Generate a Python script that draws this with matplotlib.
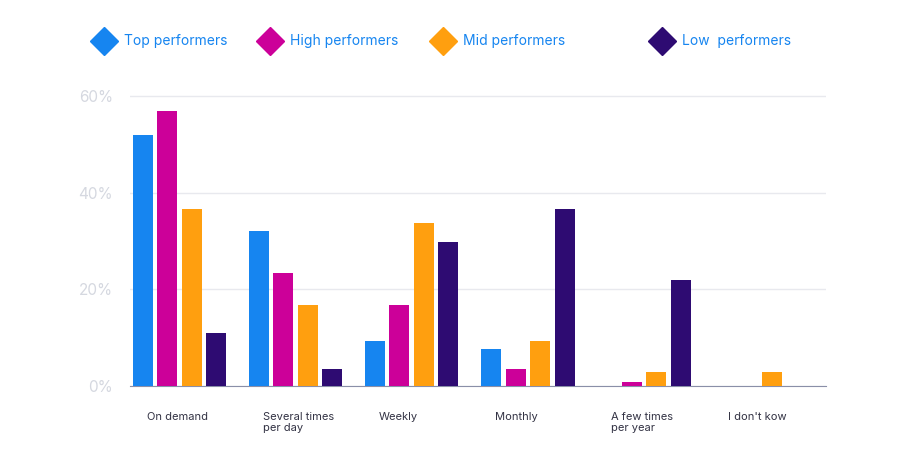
import matplotlib
matplotlib.use("Agg")
import matplotlib.pyplot as plt
from matplotlib.lines import Line2D
import numpy as np

plt.rcParams['font.family'] = ['Inter', 'DejaVu Sans']

categories = ["On demand", "Several times\nper day", "Weekly", "Monthly", "A few times\nper year", "I don't kow"]
series_names = ["Top performers", "High performers", "Mid performers", "Low  performers"]
top = [52, 32, 9.3, 7.7, 0, 0]
high = [57, 23.4, 16.8, 3.5, 0.8, 0]
mid = [36.7, 16.8, 33.7, 9.3, 2.9, 2.9]
low = [11, 3.5, 29.8, 36.7, 22, 0]
colors = ["#1685f0", "#cc0099", "#ff9f0f", "#2e0b72"]
yticks = [0, 20, 40, 60]

fig = plt.figure(figsize=(9, 4.54), dpi=100)
ax = fig.add_axes([0.144, 0.150, 0.774, 0.659])
x = np.arange(len(categories))
w, step = 0.172, 0.211
for i, (vals, c) in enumerate(zip([top, high, mid, low], colors)):
    ax.bar(x + (i - 1.5) * step, vals, width=w, color=c, zorder=3)

ax.set_xlim(-0.43, 5.57)
ax.set_ylim(0, 62)
ax.set_yticks(yticks)
ax.set_yticklabels([f"{v}%" for v in yticks], color="#d5d8e0", fontsize=11)
ax.tick_params(axis='y', length=0, pad=12)
ax.grid(axis='y', color="#e8e9ee", linewidth=1, zorder=0)
for s in ["top", "right", "left"]:
    ax.spines[s].set_visible(False)
ax.spines["bottom"].set_color("#8a8fa8")
ax.set_xticks(x)
ax.set_xticklabels([])
ax.tick_params(axis='x', length=0)
for xi, lab in zip(x, categories):
    ax.text(xi - 0.28, -5.5, lab, ha='left', va='top', fontsize=8, color="#333344",
            linespacing=1.1)

leg_x = [0.116, 0.300, 0.492, 0.736]
for lx, name, c in zip(leg_x, series_names, colors):
    fig.add_artist(Line2D([lx], [0.910], marker='D', markersize=14, color=c,
                          transform=fig.transFigure, linestyle='none'))
    fig.text(lx + 0.022, 0.910, name, va='center', ha='left', fontsize=10, color="#1685f0")

fig.savefig("out.png", dpi=100)
